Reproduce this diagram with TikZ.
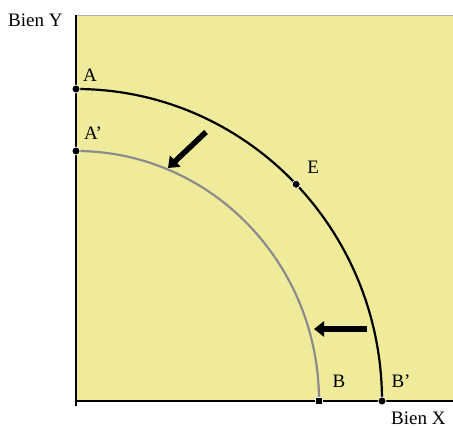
\documentclass[tikz,border=0pt]{standalone}
\usepackage{fontspec}
\setmainfont{Liberation Serif}
\usetikzlibrary{arrows.meta, positioning}
\definecolor{plotYellow}{HTML}{EFEB9A}
\definecolor{curveGray}{HTML}{8C8C8C}

\begin{document}
\begin{tikzpicture}[x=1pt, y=1pt,
    lbl/.style={font=\fontsize{19}{22}\selectfont, inner sep=0pt},
    dot/.style={circle, fill=black, draw=white, line width=0.7pt,
                minimum size=8pt, inner sep=0pt},
    sqdot/.style={rectangle, fill=black, draw=white, line width=0.7pt,
                minimum size=7pt, inner sep=0pt},
    shiftarrow/.style={line width=5.5pt, -{Triangle[length=10pt, width=15pt]}},
  ]
  \useasboundingbox (0,0) rectangle (453,428);
  \fill[plotYellow] (76,27) rectangle (453,413);
  \draw[gray!60] (76,413) -- (453,413);

  % ejes
  \coordinate (O) at (76,27);
  \coordinate (ytop) at (76,413);
  \coordinate (ybot) at (76,22);
  \coordinate (xend) at (453,27);
  \draw[line width=1.5pt] (ybot) -- (ytop);
  \draw[line width=1.5pt] (O) -- (xend);
  \node[lbl, anchor=north west] (ylab) at (8,414) {Bien Y};
  \node[lbl, anchor=north west] (xlab) at (391,16) {Bien X};

  % fronteras
  \draw[curveGray, line width=2.2pt] (76,277)
    arc[start angle=90, end angle=0, x radius=243, y radius=250];
  \draw[line width=2.2pt] (76,339)
    arc[start angle=90, end angle=0, x radius=306, y radius=312];

  \node[dot] (A) at (76,339) {};
  \node[dot] (A2) at (76,277) {};
  \node[dot] (E) at ([shift={(44:306 and 312)}]O) {};
  \node[sqdot] (B) at (319,27) {};
  \node[dot] (B2) at (382,27) {};

  \node[lbl] at ([xshift=14pt, yshift=14pt]A) {A};
  \node[lbl] at ([xshift=17pt, yshift=18pt]A2) {A'};
  \node[lbl] at ([xshift=17pt, yshift=17pt]E) {E};
  \node[lbl] at ([xshift=20pt, yshift=20pt]B) {B};
  \node[lbl] at ([xshift=19pt, yshift=20pt]B2) {B'};

  % desplazamiento
  \coordinate (d1) at (206,296);
  \coordinate (d2) at (168,260);
  \coordinate (h1) at (367,99);
  \coordinate (h2) at (314,99);
  \draw[shiftarrow] (d1) -- (d2);
  \draw[shiftarrow] (h1) -- (h2);
\end{tikzpicture}
\end{document}
